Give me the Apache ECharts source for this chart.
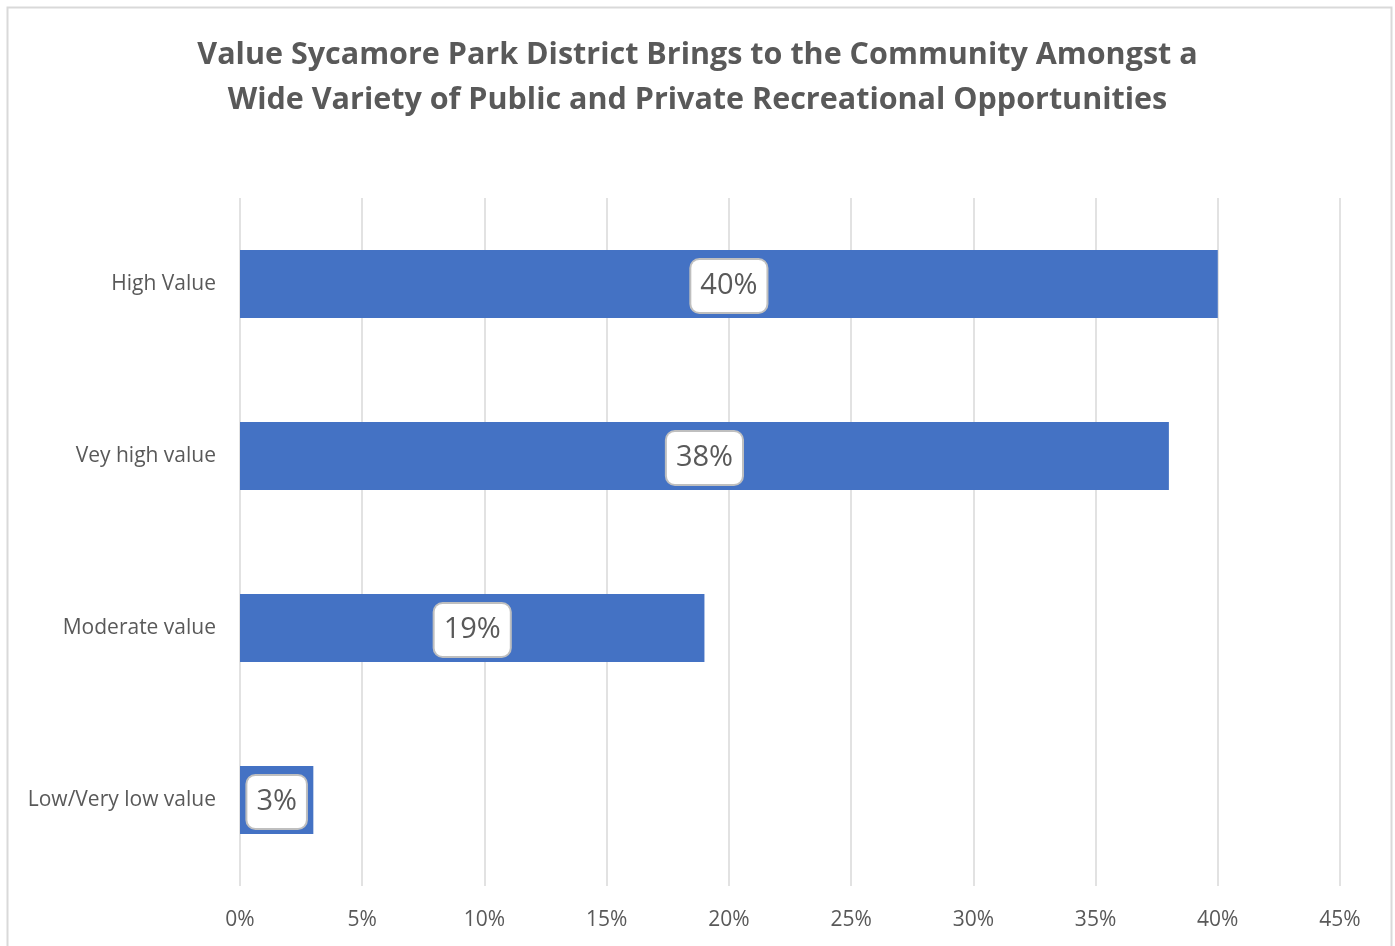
<!DOCTYPE html>
<html>
<head>
<meta charset="utf-8">
<script src="https://cdn.jsdelivr.net/npm/echarts@6/dist/echarts.min.js"></script>
<style>html,body{margin:0;padding:0;background:#fff;}#c{width:1395px;height:946px;}</style>
</head>
<body>
<div id="c"></div>
<script>
const titleText = "Value Sycamore Park District Brings to the Community Amongst a\nWide Variety of Public and Private Recreational Opportunities";
const categories = ["High Value", "Vey high value", "Moderate value", "Low/Very low value"];
const values = [40, 38, 19, 3];
const tickLabels = ["0%", "5%", "10%", "15%", "20%", "25%", "30%", "35%", "40%", "45%"];

const FONT = "Open Sans";
const chart = echarts.init(document.getElementById('c'), null, {renderer: 'canvas'});
chart.setOption({
  backgroundColor: '#fff',
  animation: false,
  graphic: [{
    type: 'rect', left: 5, top: 5,
    shape: {width: 1384, height: 950},
    style: {fill: 'none', stroke: '#D9D9D9', lineWidth: 2}
  }],
  title: {
    text: titleText,
    left: 'center', top: 28,
    textStyle: {fontFamily: FONT, fontWeight: 'bold', fontSize: 30.5, color: '#595959', lineHeight: 45}
  },
  grid: {left: 240, right: 55, top: 198, bottom: 60, containLabel: false},
  xAxis: {
    type: 'value', min: 0, max: 45, interval: 5,
    axisLine: {show: false}, axisTick: {show: false},
    splitLine: {show: true, lineStyle: {color: '#D9D9D9', width: 1.5}},
    axisLabel: {
      margin: 24, fontFamily: FONT, fontSize: 21, color: '#595959',
      formatter: function (v) { return tickLabels[Math.round(v / 5)]; }
    }
  },
  yAxis: {
    type: 'category', data: categories, inverse: true,
    axisLine: {show: false}, axisTick: {show: false},
    axisLabel: {margin: 24, fontFamily: FONT, fontSize: 21, color: '#595959'}
  },
  series: [{
    type: 'bar', data: values, barWidth: 68,
    itemStyle: {color: '#4472C4'},
    label: {
      show: true, position: 'inside', offset: [0, 2],
      formatter: function (p) { return p.value + '%'; },
      fontFamily: FONT, fontSize: 29, color: '#595959',
      backgroundColor: '#fff', borderColor: '#BFBFBF', borderWidth: 2, borderRadius: 8,
      padding: [12, 9, 11, 9]
    }
  }]
});
</script>
</body>
</html>
